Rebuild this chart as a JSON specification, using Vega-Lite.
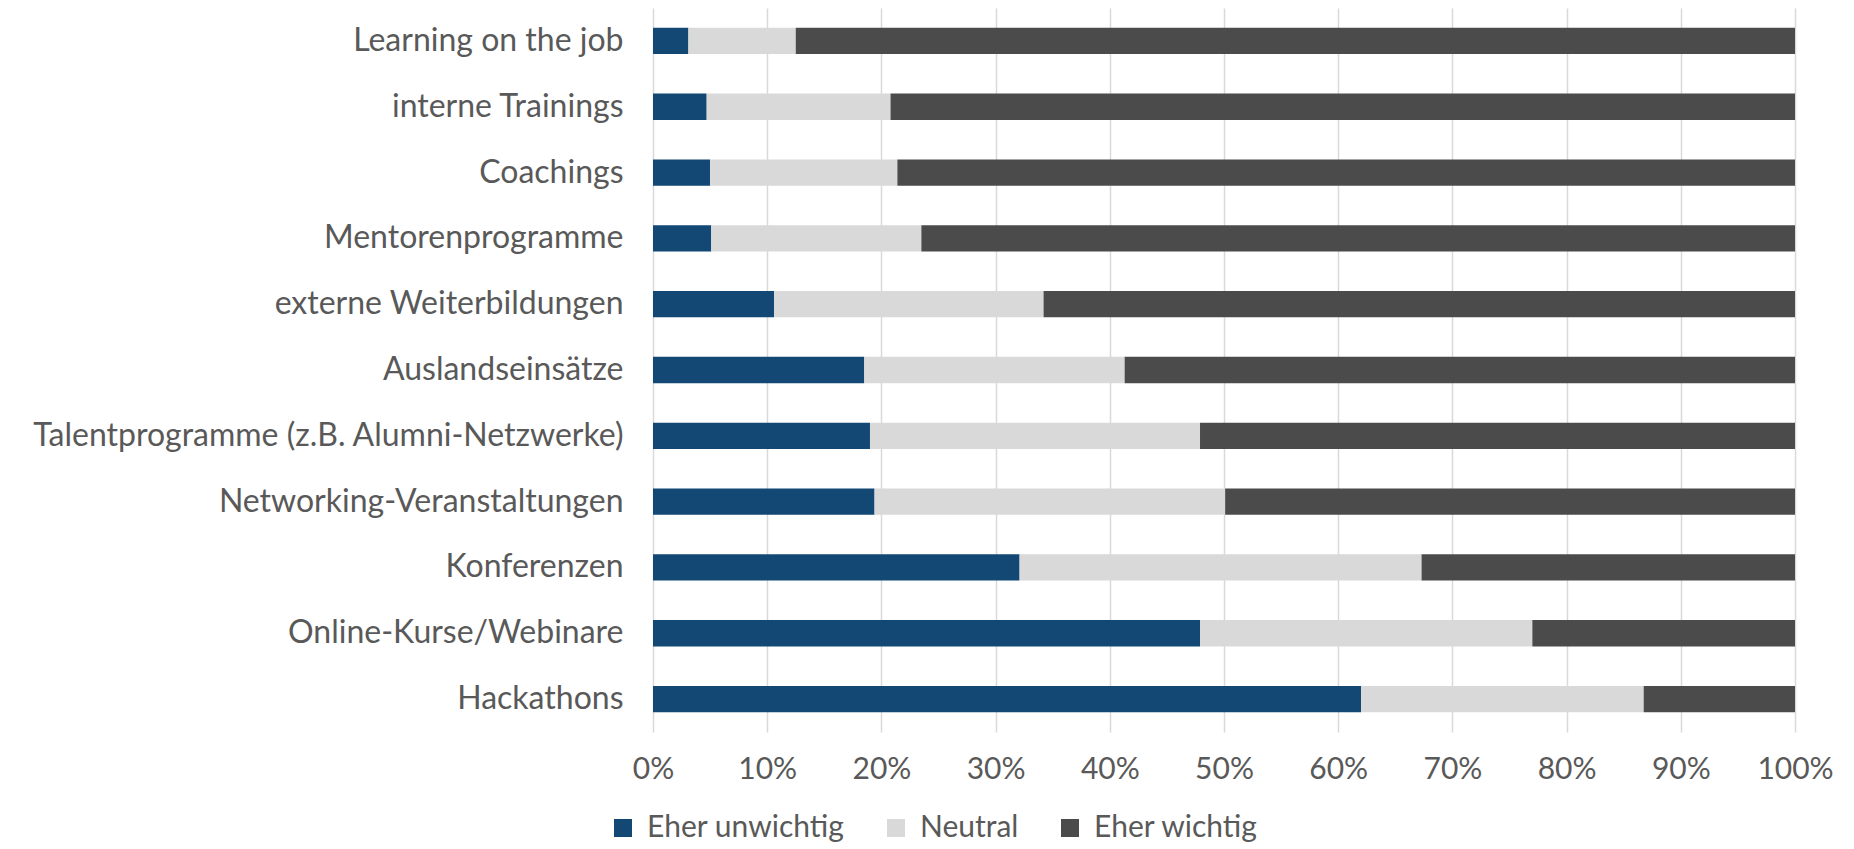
{
  "$schema": "https://vega.github.io/schema/vega-lite/v6.json",
  "autosize": {"type": "none"},
  "width": 1142,
  "height": 724,
  "padding": {"left": 653, "top": 8, "right": 59, "bottom": 117},
  "background": "white",
  "config": {
    "font": "Lato",
    "view": {"stroke": null},
    "axis": {"labelFont": "Lato", "labelColor": "#595959"},
    "legend": {"labelFont": "Lato", "labelColor": "#595959"}
  },
  "data": {
    "values": [
      {"Massnahme": "Learning on the job", "Bewertung": "Eher unwichtig", "Stufe": 1, "Anteil": 3.1},
      {"Massnahme": "Learning on the job", "Bewertung": "Neutral", "Stufe": 2, "Anteil": 9.4},
      {"Massnahme": "Learning on the job", "Bewertung": "Eher wichtig", "Stufe": 3, "Anteil": 87.5},
      {"Massnahme": "interne Trainings", "Bewertung": "Eher unwichtig", "Stufe": 1, "Anteil": 4.7},
      {"Massnahme": "interne Trainings", "Bewertung": "Neutral", "Stufe": 2, "Anteil": 16.1},
      {"Massnahme": "interne Trainings", "Bewertung": "Eher wichtig", "Stufe": 3, "Anteil": 79.2},
      {"Massnahme": "Coachings", "Bewertung": "Eher unwichtig", "Stufe": 1, "Anteil": 5.0},
      {"Massnahme": "Coachings", "Bewertung": "Neutral", "Stufe": 2, "Anteil": 16.4},
      {"Massnahme": "Coachings", "Bewertung": "Eher wichtig", "Stufe": 3, "Anteil": 78.6},
      {"Massnahme": "Mentorenprogramme", "Bewertung": "Eher unwichtig", "Stufe": 1, "Anteil": 5.1},
      {"Massnahme": "Mentorenprogramme", "Bewertung": "Neutral", "Stufe": 2, "Anteil": 18.4},
      {"Massnahme": "Mentorenprogramme", "Bewertung": "Eher wichtig", "Stufe": 3, "Anteil": 76.5},
      {"Massnahme": "externe Weiterbildungen", "Bewertung": "Eher unwichtig", "Stufe": 1, "Anteil": 10.6},
      {"Massnahme": "externe Weiterbildungen", "Bewertung": "Neutral", "Stufe": 2, "Anteil": 23.6},
      {"Massnahme": "externe Weiterbildungen", "Bewertung": "Eher wichtig", "Stufe": 3, "Anteil": 65.8},
      {"Massnahme": "Auslandseinsätze", "Bewertung": "Eher unwichtig", "Stufe": 1, "Anteil": 18.5},
      {"Massnahme": "Auslandseinsätze", "Bewertung": "Neutral", "Stufe": 2, "Anteil": 22.8},
      {"Massnahme": "Auslandseinsätze", "Bewertung": "Eher wichtig", "Stufe": 3, "Anteil": 58.7},
      {"Massnahme": "Talentprogramme (z.B. Alumni-Netzwerke)", "Bewertung": "Eher unwichtig", "Stufe": 1, "Anteil": 19.0},
      {"Massnahme": "Talentprogramme (z.B. Alumni-Netzwerke)", "Bewertung": "Neutral", "Stufe": 2, "Anteil": 28.9},
      {"Massnahme": "Talentprogramme (z.B. Alumni-Netzwerke)", "Bewertung": "Eher wichtig", "Stufe": 3, "Anteil": 52.1},
      {"Massnahme": "Networking-Veranstaltungen", "Bewertung": "Eher unwichtig", "Stufe": 1, "Anteil": 19.4},
      {"Massnahme": "Networking-Veranstaltungen", "Bewertung": "Neutral", "Stufe": 2, "Anteil": 30.7},
      {"Massnahme": "Networking-Veranstaltungen", "Bewertung": "Eher wichtig", "Stufe": 3, "Anteil": 49.9},
      {"Massnahme": "Konferenzen", "Bewertung": "Eher unwichtig", "Stufe": 1, "Anteil": 32.1},
      {"Massnahme": "Konferenzen", "Bewertung": "Neutral", "Stufe": 2, "Anteil": 35.2},
      {"Massnahme": "Konferenzen", "Bewertung": "Eher wichtig", "Stufe": 3, "Anteil": 32.7},
      {"Massnahme": "Online-Kurse/Webinare", "Bewertung": "Eher unwichtig", "Stufe": 1, "Anteil": 47.9},
      {"Massnahme": "Online-Kurse/Webinare", "Bewertung": "Neutral", "Stufe": 2, "Anteil": 29.1},
      {"Massnahme": "Online-Kurse/Webinare", "Bewertung": "Eher wichtig", "Stufe": 3, "Anteil": 23.0},
      {"Massnahme": "Hackathons", "Bewertung": "Eher unwichtig", "Stufe": 1, "Anteil": 62.0},
      {"Massnahme": "Hackathons", "Bewertung": "Neutral", "Stufe": 2, "Anteil": 24.75},
      {"Massnahme": "Hackathons", "Bewertung": "Eher wichtig", "Stufe": 3, "Anteil": 13.25}
    ]
  },
  "mark": {"type": "bar"},
  "encoding": {
    "y": {
      "field": "Massnahme",
      "type": "nominal",
      "sort": null,
      "scale": {"paddingInner": 0.6, "paddingOuter": 0.3},
      "axis": {
        "title": null,
        "ticks": false,
        "domain": false,
        "labelFontSize": 32,
        "labelPadding": 30,
        "labelLimit": 1000
      }
    },
    "x": {
      "field": "Anteil",
      "type": "quantitative",
      "stack": "normalize",
      "scale": {"domain": [0, 1], "nice": false},
      "axis": {
        "title": null,
        "format": ".0%",
        "values": [0, 0.1, 0.2, 0.3, 0.4, 0.5, 0.6, 0.7, 0.8, 0.9, 1],
        "ticks": false,
        "domain": false,
        "grid": true,
        "gridColor": "#D9D9D9",
        "gridWidth": 1.5,
        "labelFontSize": 30,
        "labelPadding": 22,
        "labelFlush": false
      }
    },
    "color": {
      "field": "Bewertung",
      "type": "nominal",
      "scale": {
        "domain": ["Eher unwichtig", "Neutral", "Eher wichtig"],
        "range": ["#134774", "#D9D9D9", "#4B4B4B"]
      },
      "legend": {
        "title": null,
        "orient": "none",
        "direction": "horizontal",
        "legendX": -45,
        "legendY": 805,
        "padding": 0,
        "symbolType": "square",
        "symbolSize": 324,
        "symbolStrokeWidth": 0,
        "labelFontSize": 30,
        "labelLimit": 1000,
        "labelOffset": 9,
        "columnPadding": 36
      }
    },
    "order": {"field": "Stufe", "type": "quantitative"}
  }
}
